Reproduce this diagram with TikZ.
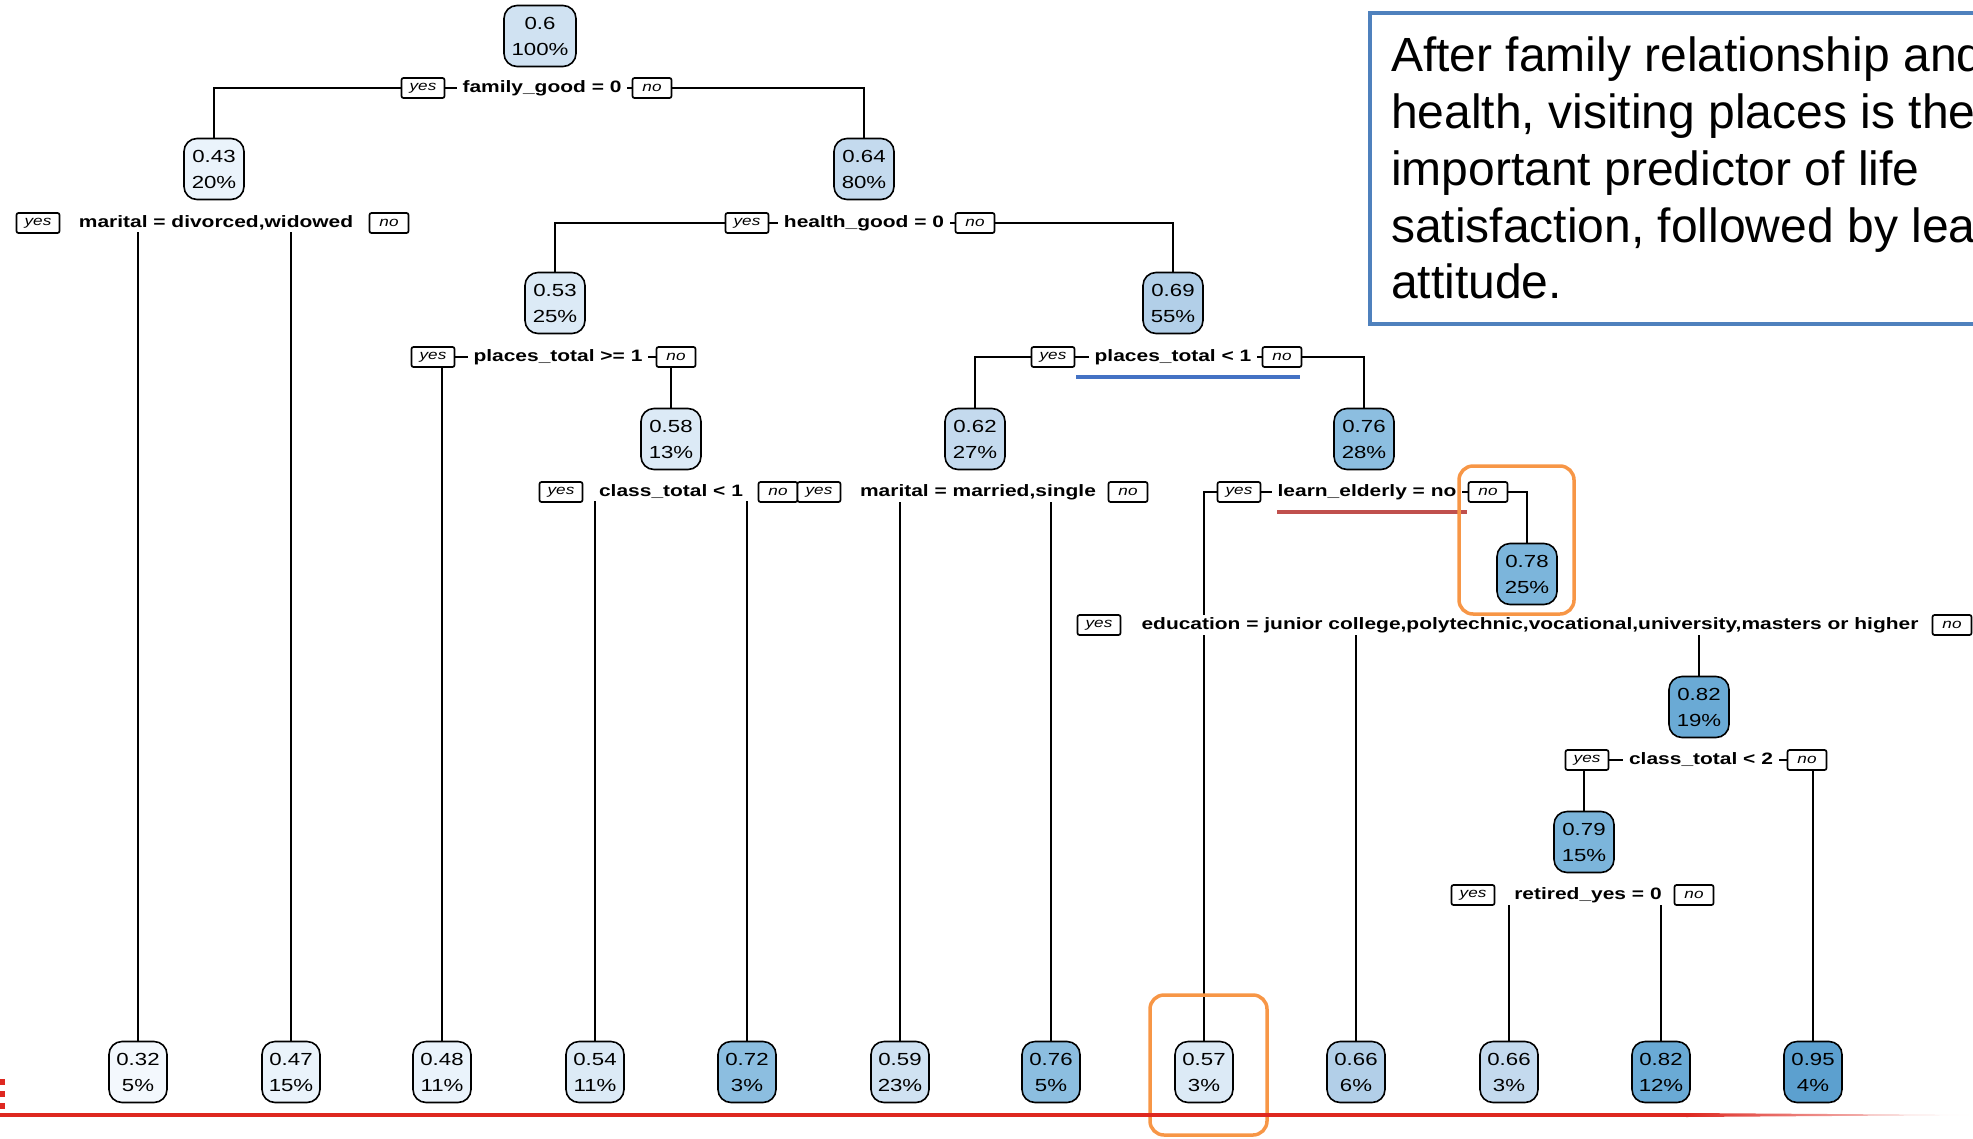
\documentclass[tikz,border=0pt]{standalone}
\usepackage{fontspec}
\setmainfont{Liberation Sans}
\newfontfamily\treefont[FakeStretch=1.27]{Liberation Sans}
\usepackage{tikz}
\usetikzlibrary{positioning,backgrounds}
\definecolor{bA}{RGB}{243,248,253}
\definecolor{bB}{RGB}{234,243,251}
\definecolor{bC}{RGB}{220,234,246}
\definecolor{bD}{RGB}{208,226,242}
\definecolor{bE}{RGB}{196,218,238}
\definecolor{bF}{RGB}{178,207,232}
\definecolor{bG}{RGB}{160,198,228}
\definecolor{bH}{RGB}{140,190,224}
\definecolor{bI}{RGB}{124,181,219}
\definecolor{bJ}{RGB}{106,170,213}
\definecolor{bK}{RGB}{92,160,207}
\definecolor{noteblue}{RGB}{79,129,189}
\definecolor{lineblue}{RGB}{68,114,196}
\definecolor{linered}{RGB}{192,80,77}
\definecolor{barred}{RGB}{222,40,32}
\definecolor{markorange}{RGB}{247,150,70}

\begin{document}
\begin{tikzpicture}
	[x=1pt,y=-1pt,
	nn/.style={draw=black,line width=1.6pt,rounded corners=13pt,minimum width=60pt,minimum height=61pt,inner sep=3pt,align=center,font=\treefont\fontsize{17.5}{26}\selectfont},
	lf/.style={nn,minimum width=58pt},
	sp/.style={fill=white,inner xsep=6pt,inner ysep=2pt,font=\treefont\bfseries\fontsize{16.5}{18}\selectfont},
	yb/.style={draw=black,fill=white,line width=1.7pt,rounded corners=2pt,minimum width=43pt,minimum height=20pt,inner sep=0pt,font=\treefont\itshape\fontsize{13.5}{13.5}\selectfont},
	nb/.style={yb,minimum width=39pt},
	br/.style={line width=1.6pt}]
	\useasboundingbox (0,0) rectangle (1973,1138);
	%LEVEL 0
	\node[nn,fill=bD,minimum width=72pt] (n0) at (540,36) {0.6\\100\%};
	\node[sp] (s0) at (542,88) {family\_good = 0};
	\node[yb] (s0y) at (423,88) {yes};
	\node[nb] (s0n) at (652,88) {no};
	%LEVEL 1
	\node[nn,fill=bB] (n1) at (214,169) {0.43\\20\%};
	\node[nn,fill=bE] (n2) at (864,169) {0.64\\80\%};
	\node[sp] (s1) at (216,223) {marital = divorced,widowed};
	\node[yb] (s1y) at (38,223) {yes};
	\node[nb] (s1n) at (389,223) {no};
	\node[sp] (s2) at (864,223) {health\_good = 0};
	\node[yb] (s2y) at (747,223) {yes};
	\node[nb] (s2n) at (975,223) {no};
	%LEVEL 2
	\node[nn,fill=bC] (n3) at (555,303) {0.53\\25\%};
	\node[nn,fill=bF] (n4) at (1173,303) {0.69\\55\%};
	\node[sp] (s3) at (558,357) {places\_total >= 1};
	\node[yb] (s3y) at (433,357) {yes};
	\node[nb] (s3n) at (676,357) {no};
	\node[sp] (s4) at (1173,357) {places\_total < 1};
	\node[yb] (s4y) at (1053,357) {yes};
	\node[nb] (s4n) at (1282,357) {no};
	%LEVEL 3
	\node[nn,fill=bC] (n5) at (671,439) {0.58\\13\%};
	\node[nn,fill=bE] (n6) at (975,439) {0.62\\27\%};
	\node[nn,fill=bH] (n7) at (1364,439) {0.76\\28\%};
	\node[sp] (s5) at (671,492) {class\_total < 1};
	\node[yb] (s5y) at (561,492) {yes};
	\node[nb] (s5n) at (778,492) {no};
	\node[sp] (s6) at (978,492) {marital = married,single};
	\node[yb] (s6y) at (819,492) {yes};
	\node[nb] (s6n) at (1128,492) {no};
	\node[sp] (s7) at (1367,492) {learn\_elderly = no};
	\node[yb] (s7y) at (1239,492) {yes};
	\node[nb] (s7n) at (1488,492) {no};
	%LEVEL 4
	\node[nn,fill=bI] (n8) at (1527,574) {0.78\\25\%};
	\node[sp] (s8) at (1530,625) {education = junior college,polytechnic,vocational,university,masters or higher};
	\node[yb] (s8y) at (1099,625) {yes};
	\node[nb] (s8n) at (1952,625) {no};
	%LEVEL 5
	\node[nn,fill=bJ] (n9) at (1699,707) {0.82\\19\%};
	\node[sp] (s9) at (1701,760) {class\_total < 2};
	\node[yb] (s9y) at (1587,760) {yes};
	\node[nb] (s9n) at (1807,760) {no};
	%LEVEL 6
	\node[nn,fill=bI] (n10) at (1584,842) {0.79\\15\%};
	\node[sp] (s10) at (1588,895) {retired\_yes = 0};
	\node[yb] (s10y) at (1473,895) {yes};
	\node[nb] (s10n) at (1694,895) {no};
	%LEAVES
	\foreach \i/\x/\v/\p/\c in {1/138/0.32/5/bA,2/291/0.47/15/bB,3/442/0.48/11/bB,4/595/0.54/11/bC,
		5/747/0.72/3/bH,6/900/0.59/23/bD,7/1051/0.76/5/bH,8/1204/0.57/3/bC,
		9/1356/0.66/6/bF,10/1509/0.66/3/bE,11/1661/0.82/12/bJ,12/1813/0.95/4/bK}
	\node[lf,fill=\c] (l\i) at (\x,1072) {\v\\\p\%};
	%BRANCHES
	\begin{scope}[on background layer]
	\draw[br] (n1.north) |- (s0.center) -| (n2.north);
	\draw[br] (l1.north) |- (s1.center) -| (l2.north);
	\draw[br] (n3.north) |- (s2.center) -| (n4.north);
	\draw[br] (l3.north) |- (s3.center) -| (n5.north);
	\draw[br] (n6.north) |- (s4.center) -| (n7.north);
	\draw[br] (l4.north) |- (s5.center) -| (l5.north);
	\draw[br] (l6.north) |- (s6.center) -| (l7.north);
	\draw[br] (l8.north) |- (s7.center) -| (n8.north);
	\draw[br] (l9.north) |- (s8.center) -| (n9.north);
	\draw[br] (n10.north) |- (s9.center) -| (l12.north);
	\draw[br] (l10.north) |- (s10.center) -| (l11.north);
	\end{scope}
	%MARKS
	\draw[lineblue,line width=4pt] (1076,377) -- (1300,377);
	\draw[linered,line width=4pt] (1277,512) -- (1467,512);
	\draw[markorange,line width=3.5pt,rounded corners=14pt] (1459,466) rectangle (1574,614);
	\draw[markorange,line width=3.5pt,rounded corners=14pt] (1150,995) rectangle (1267,1135);
	\draw[barred,line width=5pt,dash pattern=on 6pt off 6pt] (2.5,1079) -- (2.5,1117);
	\draw[barred,line width=4pt] (0,1115) -- (1686,1115);
	\shade[left color=barred,right color=white] (1686,1113) -- (1973,1115) -- (1686,1117) -- cycle;
	%NOTE
	\draw[noteblue,line width=4pt] (2000,13) -- (1370,13) -- (1370,324) -- (2000,324);
	\node[anchor=north west,inner sep=0pt,align=left,font=\fontsize{48}{56.7}\selectfont] (note) at (1391,37)
		{After family relationship and\\health, visiting places is the\\important predictor of life\\satisfaction, followed by learning\\attitude.};
\end{tikzpicture}
\end{document}
